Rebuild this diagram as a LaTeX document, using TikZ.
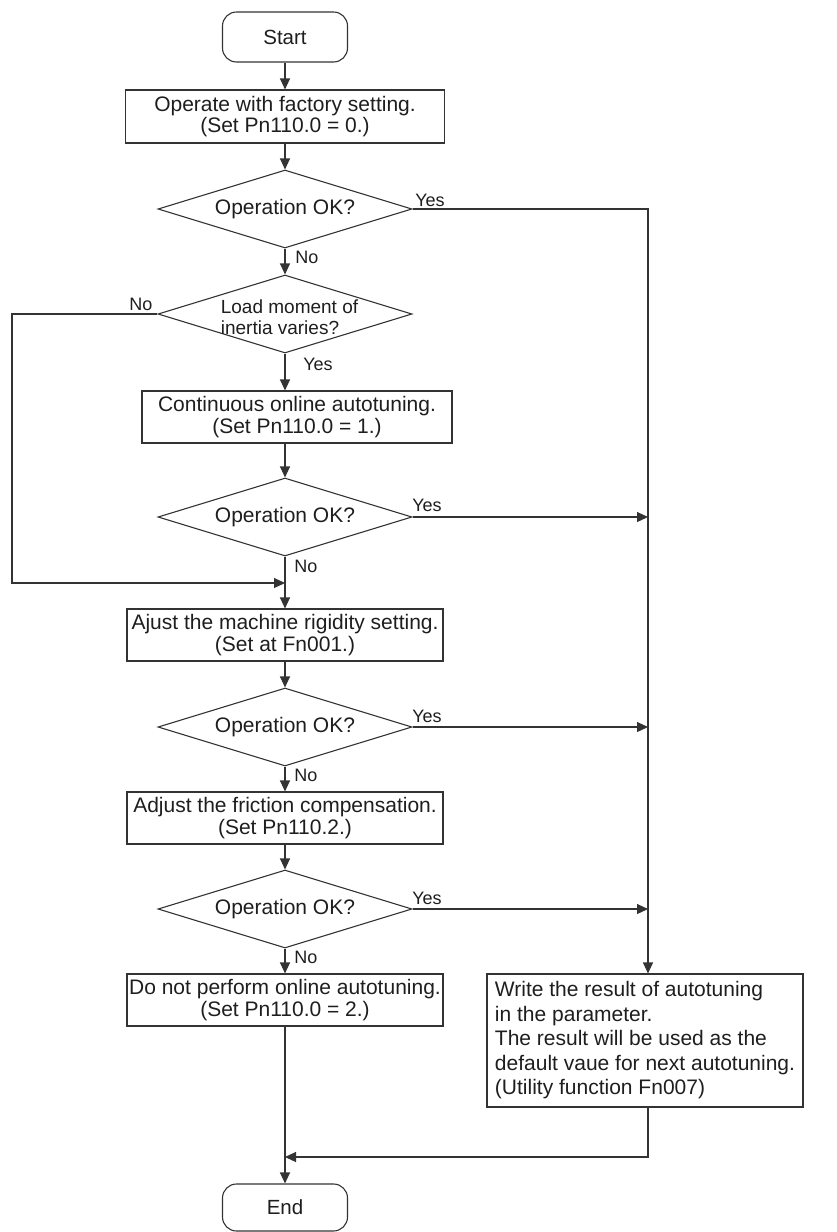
\documentclass[tikz,border=0pt]{standalone}
\usepackage{fontspec}
\setmainfont{Liberation Sans}
\usetikzlibrary{positioning,shapes.geometric,arrows.meta}
\definecolor{tratto}{HTML}{333333}
\definecolor{testo}{HTML}{1E1E1E}

\begin{document}
\begin{tikzpicture}[x=1pt,y=-1pt,
  blocco/.style={draw=tratto, line width=1.1pt, text=testo, inner sep=0pt, align=center, minimum width=316pt, minimum height=52pt, font=\fontsize{21}{21.5}\selectfont},
  rombo/.style={draw=tratto, line width=1.1pt, shape=diamond, aspect=3.26, minimum width=254pt, minimum height=78pt, inner sep=0pt, text=testo, font=\fontsize{21}{21.5}\selectfont},
  terminale/.style={draw=tratto, line width=1.1pt, rounded corners=14pt, minimum width=125pt, text=testo, font=\fontsize{20.5}{24}\selectfont},
  etichetta/.style={text=testo, inner sep=0pt, font=\fontsize{18}{20}\selectfont},
  freccia/.style={draw=tratto, line width=1.1pt, -{Triangle[length=11pt,width=10pt]}}]
				\useasboundingbox (0,0) rectangle (837,1232);
				
				% Inizio e fine
				\node[terminale, minimum height=50pt] (inizio) at (285,37) {Start};
				\node[terminale, minimum height=47pt] (fine) at (285,1207.5) {End};
				
				% Blocchi
				\node[blocco, minimum width=319pt, minimum height=53pt] (fabbrica) at (285,116.5) {Operate with factory setting.\\(Set Pn110.0 = 0.)};
				\node[blocco, minimum width=310pt] (continua) at (297,417) {Continuous online autotuning.\\(Set Pn110.0 = 1.)};
				\node[blocco] (rigidita) at (285,635) {Ajust the machine rigidity setting.\\(Set at Fn001.)};
				\node[blocco] (attrito) at (285,818) {Adjust the friction compensation.\\(Set Pn110.2.)};
				\node[blocco] (nonauto) at (285,1000) {Do not perform online autotuning.\\(Set Pn110.0 = 2.)};
				\node[blocco, minimum height=133pt, align=left, font=\fontsize{21}{24.5}\selectfont] (risultato) at (645,1040.5) {Write the result of autotuning\\in the parameter.\\The result will be used as the\\default vaue for next autotuning.\\(Utility function Fn007)};
				
				% Decisioni
				\node[rombo] (ok1) at (285,209) {Operation OK?};
				\node[rombo] (inerzia) at (285,314) {};
				\node[text=testo, inner sep=0pt, align=left, font=\fontsize{19}{21}\selectfont] (inerziatxt) at (289.5,317.5) {Load moment of\\inertia varies?};
				\node[rombo] (ok2) at (285,517) {Operation OK?};
				\node[rombo] (ok3) at (285,727) {Operation OK?};
				\node[rombo] (ok4) at (285,909) {Operation OK?};
				
				% Punti di passaggio
				\coordinate (sinistra) at (12,583);
				\coordinate (unione) at (285,583);
				\coordinate (destra) at (648,209);
				\coordinate (ritorno) at (285,1157);
				
				% Etichette Yes / No
				\node[etichetta] (si1) at (430,200) {Yes};
				\node[etichetta] (no1) at (307,257) {No};
				\node[etichetta] (no2) at (141,304) {No};
				\node[etichetta] (si2) at (318,364) {Yes};
				\node[etichetta] (si3) at (427,505) {Yes};
				\node[etichetta] (no3) at (306,566) {No};
				\node[etichetta] (si4) at (427,716) {Yes};
				\node[etichetta] (no4) at (306,775) {No};
				\node[etichetta] (si5) at (427,898) {Yes};
				\node[etichetta] (no5) at (306,957) {No};
				
				% Frecce colonna centrale
				\draw[freccia] (inizio) -- (fabbrica);
				\draw[freccia] (fabbrica) -- (ok1);
				\draw[freccia] (ok1) -- (inerzia);
				\draw[freccia] (inerzia.south) -- (inerzia.south |- continua.north);
				\draw[freccia] (continua.south -| ok2.north) -- (ok2.north);
				\draw[freccia] (ok2) -- (rigidita);
				\draw[freccia] (rigidita) -- (ok3);
				\draw[freccia] (ok3) -- (attrito);
				\draw[freccia] (attrito) -- (ok4);
				\draw[freccia] (ok4) -- (nonauto);
				\draw[freccia] (nonauto) -- (fine);
				
				% Ramo No a sinistra
				\draw[freccia] (inerzia.west) -| (sinistra) -- (unione);
				
				% Rami Yes a destra
				\draw[freccia] (ok1.east) -- (destra) -- (destra |- risultato.north);
				\draw[freccia] (ok2.east) -- (ok2.east -| destra);
				\draw[freccia] (ok3.east) -- (ok3.east -| destra);
				\draw[freccia] (ok4.east) -- (ok4.east -| destra);
				\draw[freccia] (destra |- risultato.south) |- (ritorno);
			\end{tikzpicture}
\end{document}
